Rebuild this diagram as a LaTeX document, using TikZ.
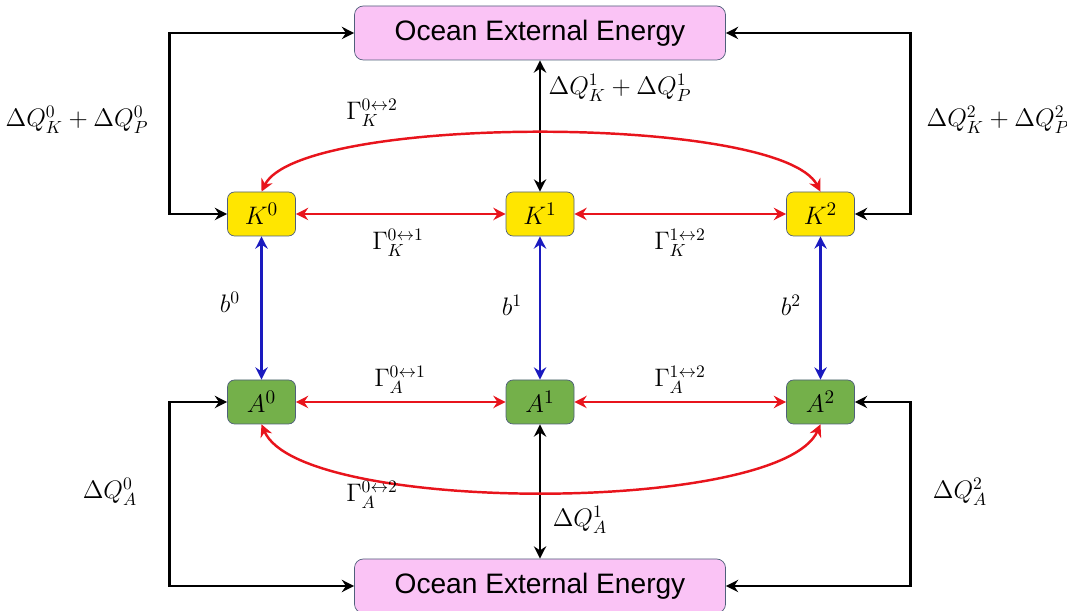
\documentclass[tikz,border=0pt]{standalone}
\usepackage{fontspec}
\usepackage{amsmath}
\setsansfont{Liberation Sans}
\usetikzlibrary{arrows.meta,positioning}
\definecolor{oceanpink}{HTML}{FAC3F5}
\definecolor{kyellow}{HTML}{FFE600}
\definecolor{agreen}{HTML}{74B04A}
\definecolor{edge}{HTML}{4F5F7A}
\definecolor{exred}{HTML}{E8141C}
\definecolor{bblue}{HTML}{1A1ABF}

\begin{document}
\begin{tikzpicture}[
  >={Stealth[length=7pt,width=7pt]},
  ocean/.style={draw=edge, fill=oceanpink, rounded corners=5pt, minimum width=7.42cm, minimum height=1.08cm, font=\sffamily\fontsize{16}{19}\selectfont},
  kbox/.style={draw=edge, fill=kyellow, rounded corners=4pt, minimum width=1.36cm, minimum height=0.88cm, font=\fontsize{15}{18}\selectfont},
  abox/.style={kbox, fill=agreen},
  flow/.style={<->, line width=1.6pt, black},
  exch/.style={<->, line width=1.4pt, exred},
  bond/.style={<->, line width=1.4pt, bblue},
  lbl/.style={font=\fontsize{14}{17}\selectfont},
]
\useasboundingbox (0,0) rectangle (21.34,12.22);

% energy reservoirs
\node[ocean] (oceanT) at (10.8, 11.56) {Ocean External Energy};
\node[ocean] (oceanB) at (10.8, 0.5) {Ocean External Energy};

% K and A layers
\node[kbox] (K0) at (5.23, 7.94) {$K^0$};
\node[kbox] (K1) at (10.8, 7.94) {$K^1$};
\node[kbox] (K2) at (16.41, 7.94) {$K^2$};
\node[abox] (A0) at (5.23, 4.18) {$A^0$};
\node[abox] (A1) at (10.8, 4.18) {$A^1$};
\node[abox] (A2) at (16.41, 4.18) {$A^2$};

% energy exchange with the ocean
\draw[flow] (oceanT.west) -- ++(-3.7,0) |- (K0.west);
\draw[flow] (oceanT.east) -- ++(3.7,0) |- (K2.east);
\draw[flow] (oceanT.south) -- (K1.north);
\draw[flow] (A0.west) -| ([xshift=-3.7cm]oceanB.west) -- (oceanB.west);
\draw[flow] (A2.east) -| ([xshift=3.7cm]oceanB.east) -- (oceanB.east);
\draw[flow] (A1.south) -- (oceanB.north);

% exchanges between neighbours
\draw[exch] (K0) -- (K1);
\draw[exch] (K1) -- (K2);
\draw[exch] (A0) -- (A1);
\draw[exch] (A1) -- (A2);
\draw[exch] (K0.north) .. controls (6.0,9.94) and (15.6,9.94) .. (K2.north);
\draw[exch] (A0.south) .. controls (6.0,1.93) and (15.6,1.93) .. (A2.south);

% K--A coupling
\draw[bond] (K0) -- (A0);
\draw[bond] (K1) -- (A1);
\draw[bond] (K2) -- (A2);

% labels
\node[lbl] (qk0) at (1.54, 9.82) {$\Delta Q_K^0+\Delta Q_P^0$};
\node[lbl] (qk1) at (12.4, 10.46) {$\Delta Q_K^1+\Delta Q_P^1$};
\node[lbl] (qk2) at (19.96, 9.82) {$\Delta Q_K^2+\Delta Q_P^2$};
\node[lbl] (qa0) at (2.2, 2.38) {$\Delta Q_A^0$};
\node[lbl] (qa1) at (11.6, 1.82) {$\Delta Q_A^1$};
\node[lbl] (qa2) at (19.2, 2.38) {$\Delta Q_A^2$};
\node[lbl] (gk02) at (7.44, 9.96) {$\Gamma_K^{0\leftrightarrow2}$};
\node[lbl] (gk01) at (7.96, 7.36) {$\Gamma_K^{0\leftrightarrow1}$};
\node[lbl] (gk12) at (13.6, 7.36) {$\Gamma_K^{1\leftrightarrow2}$};
\node[lbl] (ga01) at (8.0, 4.62) {$\Gamma_A^{0\leftrightarrow1}$};
\node[lbl] (ga12) at (13.6, 4.62) {$\Gamma_A^{1\leftrightarrow2}$};
\node[lbl] (ga02) at (7.44, 2.32) {$\Gamma_A^{0\leftrightarrow2}$};
\node[lbl] (b0) at (4.6, 6.18) {$b^0$};
\node[lbl] (b1) at (10.24, 6.12) {$b^1$};
\node[lbl] (b2) at (15.82, 6.12) {$b^2$};

\end{tikzpicture}
\end{document}
